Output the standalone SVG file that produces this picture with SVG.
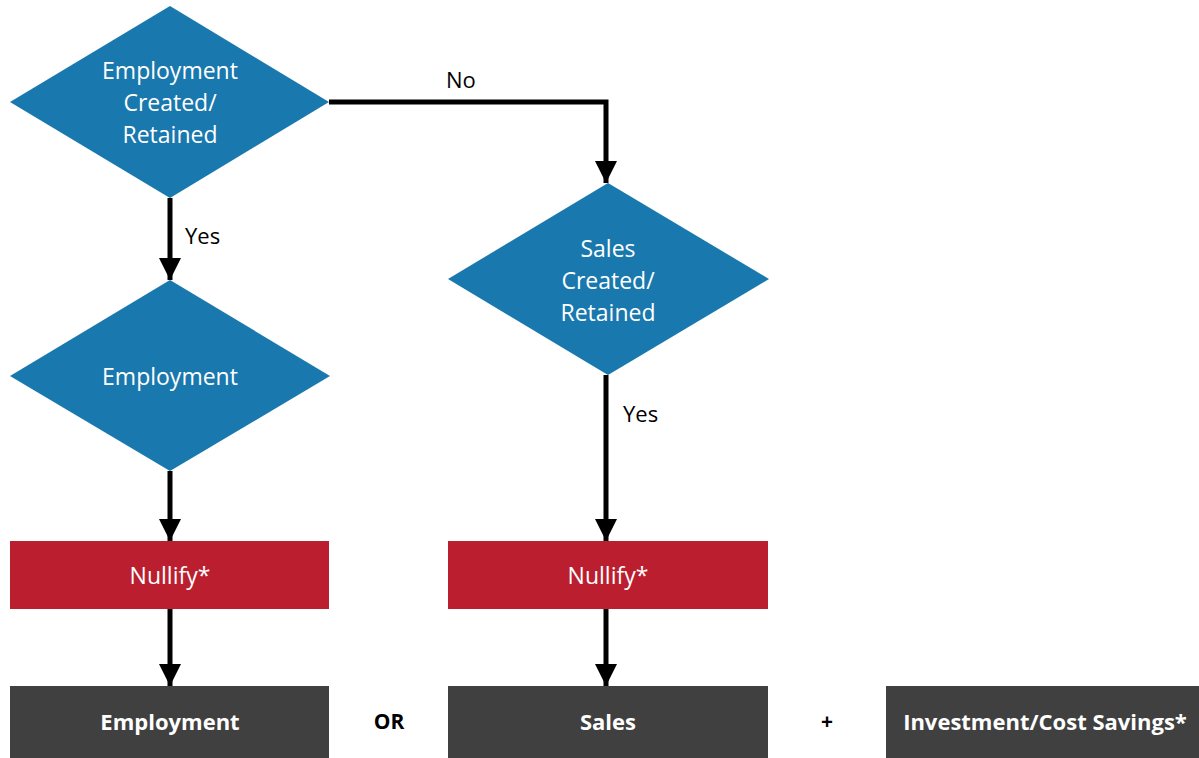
<svg xmlns="http://www.w3.org/2000/svg" width="1199" height="758" viewBox="0 0 1199 758">
<defs>
<style>
.dia{fill:#1978AD;}
.red{fill:#BA1E2F;}
.gray{fill:#404040;}
.t{font-family:"Open Sans","Noto Sans",sans-serif;font-size:23px;fill:#fff;text-anchor:middle;}
.tb{font-family:"Open Sans","Noto Sans",sans-serif;font-size:22px;font-weight:bold;fill:#fff;text-anchor:middle;}
.lbl{font-family:"Open Sans","Noto Sans",sans-serif;font-size:22px;fill:#000;}
.lb{font-family:"Open Sans","Noto Sans",sans-serif;font-size:21px;font-weight:bold;fill:#000;text-anchor:middle;}
.c{fill:none;stroke:#000;stroke-width:5;}
</style>
<marker id="ah" viewBox="0 0 10 10" refX="10" refY="5" markerWidth="4.4" markerHeight="4.4" markerUnits="strokeWidth" orient="auto">
<path d="M0,0 L10,5 L0,10 Z" fill="#000"/>
</marker>
</defs>
<rect width="1199" height="758" fill="#fff"/>
<g id="connectors">
<path class="c" d="M329,102 H606 V183" marker-end="url(#ah)"/>
<path class="c" d="M170,198 V280" marker-end="url(#ah)"/>
<path class="c" d="M170,471 V541" marker-end="url(#ah)"/>
<path class="c" d="M606,375 V541" marker-end="url(#ah)"/>
<path class="c" d="M170,609 V686" marker-end="url(#ah)"/>
<path class="c" d="M606,609 V686" marker-end="url(#ah)"/>
<text class="lbl" x="446" y="88">No</text>
<text class="lbl" x="185" y="244">Yes</text>
<text class="lbl" x="623" y="422">Yes</text>
</g>
<g id="d1">
<polygon class="dia" points="170,6 329,102 170,198 10,102"/>
<text class="t" x="170" y="79">Employment</text>
<text class="t" x="170" y="111">Created/</text>
<text class="t" x="170" y="143">Retained</text>
</g>
<g id="d2">
<polygon class="dia" points="608,183 769,279 608,375 448,279"/>
<text class="t" x="608" y="257">Sales</text>
<text class="t" x="608" y="289">Created/</text>
<text class="t" x="608" y="321">Retained</text>
</g>
<g id="d3">
<polygon class="dia" points="170,280 330,376 170,471 10,376"/>
<text class="t" x="170" y="385">Employment</text>
</g>
<g id="n1">
<rect class="red" x="10" y="541" width="319" height="68"/>
<text class="t" x="170" y="584">Nullify*</text>
</g>
<g id="n2">
<rect class="red" x="448" y="541" width="320" height="68"/>
<text class="t" x="608" y="584">Nullify*</text>
</g>
<g id="o1">
<rect class="gray" x="10" y="686" width="319" height="72"/>
<text class="tb" x="170" y="730">Employment</text>
</g>
<g id="o2">
<rect class="gray" x="448" y="686" width="320" height="72"/>
<text class="tb" x="608" y="730">Sales</text>
</g>
<g id="o3">
<rect class="gray" x="886" y="686" width="313" height="72"/>
<text class="tb" x="1045" y="730">Investment/Cost Savings*</text>
</g>
<text class="lb" x="389" y="729">OR</text>
<text class="lb" x="827" y="729">+</text>
</svg>
